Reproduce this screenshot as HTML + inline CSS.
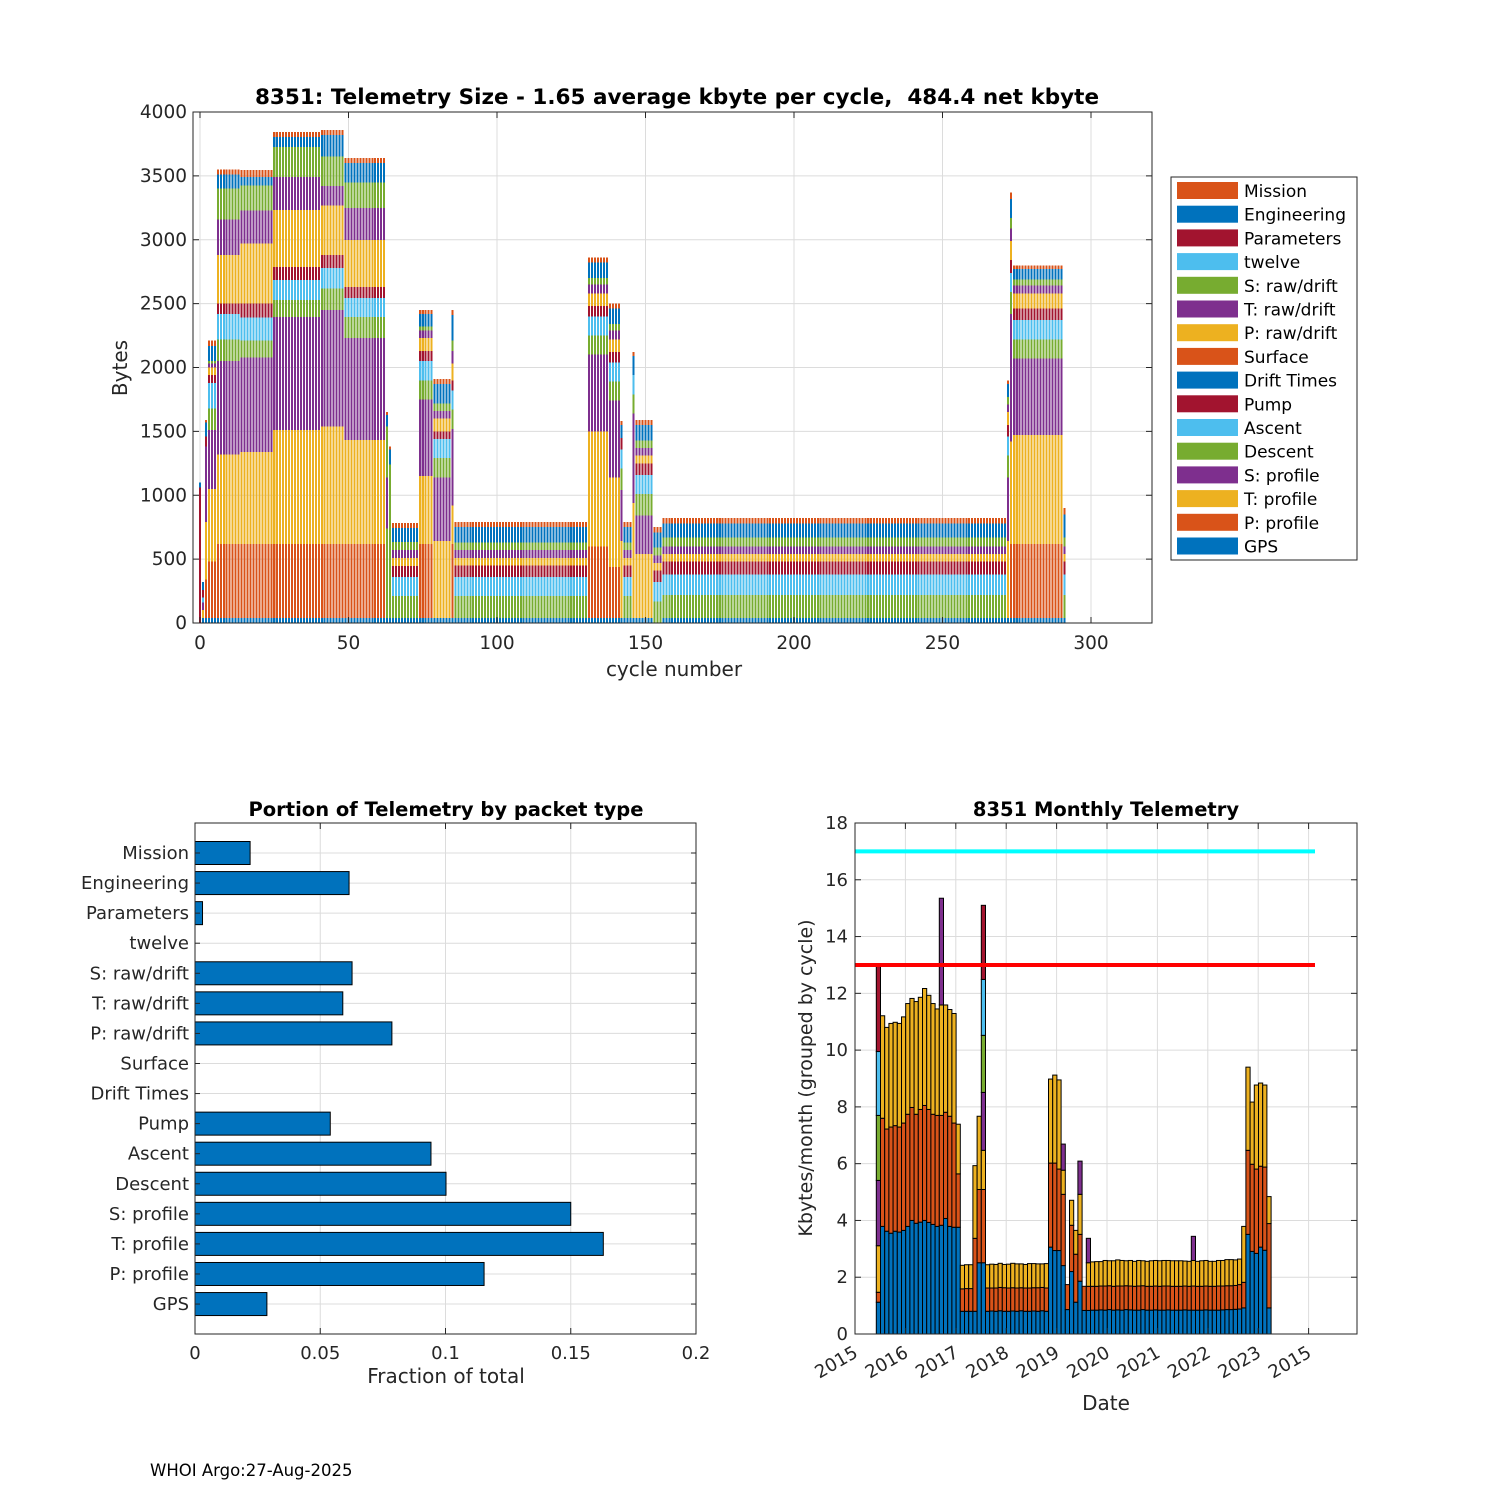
<!DOCTYPE html>
<html><head><meta charset="utf-8"><style>
body{margin:0;background:#fff;}
svg{display:block;font-family:"DejaVu Sans","Liberation Sans",sans-serif;}
</style></head><body>
<svg id="fig" width="1500" height="1500" viewBox="0 0 1500 1500">
<rect width="1500" height="1500" fill="#fff"/>
<g id="top"></g>
<g id="bl"></g>
<g id="br"></g>
<text x="150" y="1476" font-size="16.5">WHOI Argo:27-Aug-2025</text>
</svg>
<script>
// ---------- data ----------
const packetNames = ["GPS","P: profile","T: profile","S: profile","Descent","Ascent","Pump","Drift Times","Surface","P: raw/drift","T: raw/drift","S: raw/drift","twelve","Parameters","Engineering","Mission"];
const packetColors = ["#0072BD","#D95319","#EDB120","#7E2F8E","#77AC30","#4DBEEE","#A2142F","#0072BD","#D95319","#EDB120","#7E2F8E","#77AC30","#4DBEEE","#A2142F","#0072BD","#D95319"];
// cycle blocks: [firstCycle, lastCycle, bytes per packet type (GPS..Mission)]
const cycleBlocks = [
 [0,0,[0,0,0,0,0,0,0,0,0,0,0,0,0,1060,40,0]],
 [1,1,[40,0,60,60,0,40,60,0,0,0,0,0,0,0,60,0]],
 [2,2,[40,300,450,590,0,0,80,0,0,0,0,0,0,0,110,20]],
 [3,5,[40,440,570,460,170,200,60,0,0,60,30,20,0,0,120,40]],
 [6,13,[40,580,700,730,170,200,80,0,0,380,280,240,0,0,110,40]],
 [14,24,[40,580,720,740,130,180,110,0,0,470,260,195,0,0,65,55]],
 [25,40,[40,580,890,885,133,156,103,0,0,446,258,235,0,0,78,39]],
 [41,48,[40,580,920,910,170,160,100,0,0,390,150,230,0,0,170,40]],
 [49,62,[40,580,812,798,165,149,86,0,0,368,250,202,0,0,150,40]],
 [63,63,[40,0,0,0,700,0,0,0,0,0,400,400,0,0,90,20]],
 [64,64,[40,0,0,0,400,0,0,0,0,0,0,800,0,0,120,20]],
 [65,73,[40,0,0,0,170,150,86,0,0,62,63,63,0,0,109,40]],
 [74,78,[40,580,530,600,150,150,80,0,0,100,60,30,0,0,100,30]],
 [79,84,[40,0,600,500,150,150,60,0,0,100,60,60,0,0,150,40]],
 [85,85,[40,580,300,600,150,150,80,0,0,130,100,80,0,0,200,40]],
 [86,130,[40,0,0,0,170,150,90,0,0,60,60,60,0,0,120,40]],
 [131,137,[40,560,900,600,150,150,80,0,0,100,70,50,0,0,120,40]],
 [138,141,[40,400,700,600,150,150,80,0,0,100,70,50,0,0,120,40]],
 [142,142,[40,0,600,400,170,150,90,0,0,0,0,0,0,0,100,30]],
 [143,145,[40,0,0,0,170,150,90,0,0,60,60,60,0,0,120,40]],
 [146,146,[40,0,900,700,150,150,0,0,0,0,0,0,0,0,150,30]],
 [147,152,[40,0,500,300,170,150,90,0,0,60,60,60,0,0,120,40]],
 [153,155,[0,0,0,0,170,150,90,0,0,60,60,60,0,0,120,40]],
 [156,271,[40,0,0,0,180,160,100,0,0,60,60,70,0,0,110,40]],
 [272,272,[40,0,600,500,170,150,90,0,0,100,60,60,0,0,100,30]],
 [273,273,[40,580,800,1000,170,150,100,0,0,150,100,80,0,0,150,50]],
 [274,290,[40,580,850,600,150,150,90,0,0,120,60,50,0,0,80,30]],
 [291,291,[40,0,0,0,180,160,100,0,0,60,60,70,0,0,180,50]]
];
const topYTicks = [0,500,1000,1500,2000,2500,3000,3500,4000];
const topXTicks = [0,50,100,150,200,250,300];

const fracCategories = ["Mission","Engineering","Parameters","twelve","S: raw/drift","T: raw/drift","P: raw/drift","Surface","Drift Times","Pump","Ascent","Descent","S: profile","T: profile","P: profile","GPS"];
const fracValues = [0.022,0.0615,0.003,0,0.0627,0.059,0.0786,0,0,0.054,0.0942,0.1002,0.150,0.163,0.1154,0.0287];
const fracXTicks = [0,0.05,0.1,0.15,0.2];
const fracXTickLabels = ["0","0.05","0.1","0.15","0.2"];

const monthStart = 2015 + 5/12; // first bar = June 2015
const mBlue = [1.12,3.79,3.62,3.55,3.62,3.59,3.65,3.79,4.00,3.90,3.94,4.00,3.93,3.86,3.79,3.83,4.07,3.79,3.76,3.76,
 0.80,0.80,0.80,0.80,2.51,2.51,0.80,0.81,0.80,0.82,0.80,0.80,0.81,0.80,0.82,0.80,0.80,0.81,0.80,0.82,0.80,
 3.06,2.94,2.94,2.41,0.86,2.20,1.12,1.86,0.83,0.83,
 0.84,0.84,0.85,0.84,0.86,0.84,0.85,0.84,0.86,0.85,0.84,0.84,0.86,0.84,0.84,0.85,0.84,0.84,0.85,0.84,0.84,0.84,0.85,0.84,0.84,0.84,0.84,0.85,0.84,0.84,0.84,0.85,0.86,0.86,0.87,
 0.88,0.92,3.51,2.91,2.84,3.06,2.95,0.92];
const mOrange = [0.35,3.81,3.60,3.74,3.72,3.70,3.78,3.95,3.98,3.84,3.97,4.05,3.98,3.88,3.91,3.87,3.74,3.88,3.67,1.88,
 0.79,0.80,0.80,2.57,2.58,2.58,0.82,0.81,0.82,0.82,0.83,0.82,0.82,0.82,0.81,0.82,0.82,0.82,0.83,0.82,0.82,
 2.96,3.08,2.87,2.51,0.88,1.63,1.69,1.65,0.85,0.85,
 0.84,0.84,0.84,0.85,0.84,0.84,0.84,0.85,0.84,0.84,0.84,0.85,0.84,0.84,0.84,0.84,0.84,0.85,0.84,0.84,0.84,0.84,0.84,0.84,0.85,0.84,0.84,0.84,0.84,0.84,0.85,0.84,0.84,0.84,0.84,
 0.86,0.90,2.96,3.07,2.97,2.85,2.93,2.97];
const mYellow = [1.64,3.61,3.58,3.65,3.64,3.65,3.74,3.90,3.84,3.97,3.95,4.12,4.02,3.90,3.75,3.89,3.78,3.76,3.86,1.75,
 0.83,0.84,0.84,2.56,2.58,1.38,0.82,0.84,0.83,0.85,0.82,0.84,0.86,0.85,0.84,0.83,0.86,0.85,0.84,0.83,0.86,
 2.96,3.10,3.14,0.85,0,0.88,0.84,1.41,0,0.83,
 0.86,0.87,0.86,0.90,0.88,0.90,0.92,0.90,0.88,0.90,0.88,0.90,0.88,0.88,0.90,0.90,0.90,0.90,0.90,0.90,0.90,0.90,0.88,0.88,0.90,0.88,0.90,0.90,0.88,0.88,0.90,0.90,0.92,0.92,0.90,
 0.90,1.97,2.93,2.19,2.96,2.93,2.89,0.95];
// extra layers: [monthIndex, purple, green, cyan, red]
const mExtra = [[0,2.30,2.29,2.25,3.02],[15,3.76,0,0,0],[25,2.04,2.01,1.97,2.61],[44,0.92,0,0,0],[48,1.17,0,0,0],[50,0.86,0,0,0],[75,0.85,0,0,0]];
const monthlyLimits = [17,13];
const mYTicks = [0,2,4,6,8,10,12,14,16,18];
const mXTickYears = [2015,2016,2017,2018,2019,2020,2021,2022,2023,2024];
const mXTickLabels = ["2015","2016","2017","2018","2019","2020","2021","2022","2023","2015"];

// ---------- helpers ----------
const NS="http://www.w3.org/2000/svg";
function mk(parent,tag,attrs,text){const e=document.createElementNS(NS,tag);for(const k in attrs)e.setAttribute(k,attrs[k]);if(text!==undefined)e.textContent=text;parent.appendChild(e);return e;}

// ---------- top chart ----------
(function(){
 const g=document.getElementById('top');
 const L=193,R=1152,T=112,B=623;
 const xs=c=>200+(c)*(1091-200)/300;
 const ys=v=>B-v*(B-T)/4000;
 topYTicks.forEach(v=>{const l=mk(g,'line',{x1:L,x2:R,y1:ys(v),y2:ys(v),stroke:'#dcdcdc','stroke-width':1});
  
  });
 topXTicks.forEach(v=>{const l=mk(g,'line',{x1:xs(v),x2:xs(v),y1:T,y2:B,stroke:'#dcdcdc','stroke-width':1});
  
  });
 const bw=(1091-200)/300*0.68;
 cycleBlocks.forEach(b=>{
  for(let c=b[0];c<=b[1];c++){
   let acc=0;
   b[2].forEach((h,i)=>{ if(h<=0)return;
    const r=mk(g,'rect',{x:xs(c)-bw/2,y:ys(acc+h),width:bw,height:ys(acc)-ys(acc+h),fill:packetColors[i],'shape-rendering':'crispEdges'});
    
    
    acc+=h;});
  }
 });
 mk(g,'rect',{x:L,y:T,width:R-L,height:B-T,fill:'none',stroke:'#262626','stroke-width':1});
 topYTicks.forEach(v=>{mk(g,'line',{x1:L,x2:L+6,y1:ys(v),y2:ys(v),stroke:'#262626'});mk(g,'line',{x1:R,x2:R-6,y1:ys(v),y2:ys(v),stroke:'#262626'});
  const t=mk(g,'text',{x:L-6,y:ys(v)+6,'font-size':18.5,'text-anchor':'end',fill:'#262626'},String(v));
  
  });
 topXTicks.forEach(v=>{mk(g,'line',{x1:xs(v),x2:xs(v),y1:B,y2:B-6,stroke:'#262626'});mk(g,'line',{x1:xs(v),x2:xs(v),y1:T,y2:T+6,stroke:'#262626'});
  const t=mk(g,'text',{x:xs(v),y:B+26,'font-size':18.5,'text-anchor':'middle',fill:'#262626'},String(v));
  
  });
 mk(g,'text',{x:677,y:104,'font-size':21.5,'font-weight':'bold','text-anchor':'middle',style:'white-space:pre',},'8351: Telemetry Size - 1.65 average kbyte per cycle,  484.4 net kbyte');
 mk(g,'text',{x:674,y:676,'font-size':20,'text-anchor':'middle',fill:'#262626',},'cycle number');
 mk(g,'text',{x:0,y:0,'font-size':20,'text-anchor':'middle',fill:'#262626',transform:'translate(127,368) rotate(-90)',},'Bytes');
 // legend
 const lg=mk(g,'g',{});
 mk(lg,'rect',{x:1171,y:177,width:186,height:383,fill:'#fff',stroke:'#262626'});
 for(let i=15;i>=0;i--){const row=15-i;const y=182+row*23.7;
  const e=mk(lg,'g',{});
  
  
  mk(e,'rect',{x:1177,y:y,width:61,height:17,fill:packetColors[i]});
  mk(e,'text',{x:1244,y:y+15,'font-size':17,fill:'#000'},packetNames[i]);}
})();

// ---------- bottom-left ----------
(function(){
 const g=document.getElementById('bl');
 const L=195,R=696,T=823,B=1334;
 const xs=v=>L+v*(R-L)/0.2;
 const yc=i=>853+i*30.07;
 fracXTicks.forEach(v=>{const l=mk(g,'line',{x1:xs(v),x2:xs(v),y1:T,y2:B,stroke:'#dcdcdc'});
  
  });
 fracCategories.forEach((c,i)=>{mk(g,'line',{x1:L,x2:R,y1:yc(i),y2:yc(i),stroke:'#dcdcdc'});});
 fracCategories.forEach((c,i)=>{
  if(fracValues[i]>0){const r=mk(g,'rect',{x:L,y:yc(i)-11.5,width:xs(fracValues[i])-L,height:23,fill:'#0072BD',stroke:'#000','stroke-width':1});
   
   }
  const t=mk(g,'text',{x:L-6,y:yc(i)+6,'font-size':18,'text-anchor':'end',fill:'#262626'},c);
  
  
  mk(g,'line',{x1:L,x2:L+5,y1:yc(i),y2:yc(i),stroke:'#262626'});mk(g,'line',{x1:R,x2:R-5,y1:yc(i),y2:yc(i),stroke:'#262626'});
 });
 mk(g,'rect',{x:L,y:T,width:R-L,height:B-T,fill:'none',stroke:'#262626'});
 fracXTicks.forEach((v,i)=>{mk(g,'line',{x1:xs(v),x2:xs(v),y1:B,y2:B-6,stroke:'#262626'});mk(g,'line',{x1:xs(v),x2:xs(v),y1:T,y2:T+6,stroke:'#262626'});
  const t=mk(g,'text',{x:xs(v),y:B+25,'font-size':18,'text-anchor':'middle',fill:'#262626'},fracXTickLabels[i]);
  
  });
 mk(g,'text',{x:446,y:816,'font-size':19.5,'font-weight':'bold','text-anchor':'middle',},'Portion of Telemetry by packet type');
 mk(g,'text',{x:446,y:1383,'font-size':20,'text-anchor':'middle',fill:'#262626',},'Fraction of total');
})();

// ---------- bottom-right ----------
(function(){
 const g=document.getElementById('br');
 const L=855,R=1357,T=823,B=1334;
 const xs=yr=>855+(yr-2015)*50.4;
 const ys=v=>B-v*(B-T)/18;
 mYTicks.forEach(v=>{mk(g,'line',{x1:L,x2:R,y1:ys(v),y2:ys(v),stroke:'#dcdcdc'});});
 mXTickYears.forEach(v=>{mk(g,'line',{x1:xs(v),x2:xs(v),y1:T,y2:B,stroke:'#dcdcdc'});});
 const mw=50.4/12;
 mBlue.forEach((b,i)=>{
  const x=xs(monthStart+i/12)+0.3;
  const layers=[[b,'#0072BD'],[mOrange[i],'#D95319'],[mYellow[i],'#EDB120']];
  mExtra.forEach(e=>{if(e[0]===i){layers.push([e[1],'#7E2F8E'],[e[2],'#77AC30'],[e[3],'#4DBEEE'],[e[4],'#A2142F']);}});
  let acc=0;
  layers.forEach(l=>{if(l[0]<=0)return;
   const r=mk(g,'rect',{x:x,y:ys(acc+l[0]),width:mw,height:ys(acc)-ys(acc+l[0]),fill:l[1],stroke:'#000','stroke-width':1});
   
   
   acc+=l[0];});
 });
 const lc=['#00FFFF','#FF0000'];
 monthlyLimits.forEach((v,i)=>{const l=mk(g,'line',{x1:L,x2:1315,y1:ys(v),y2:ys(v),stroke:lc[i],'stroke-width':4});
  
  });
 mk(g,'rect',{x:L,y:T,width:R-L,height:B-T,fill:'none',stroke:'#262626'});
 mYTicks.forEach(v=>{mk(g,'line',{x1:L,x2:L+6,y1:ys(v),y2:ys(v),stroke:'#262626'});mk(g,'line',{x1:R,x2:R-6,y1:ys(v),y2:ys(v),stroke:'#262626'});
  const t=mk(g,'text',{x:L-7,y:ys(v)+6,'font-size':18,'text-anchor':'end',fill:'#262626'},String(v));
  
  });
 mXTickYears.forEach((v,i)=>{mk(g,'line',{x1:xs(v),x2:xs(v),y1:B,y2:B-6,stroke:'#262626'});mk(g,'line',{x1:xs(v),x2:xs(v),y1:T,y2:T+6,stroke:'#262626'});
  const t=mk(g,'text',{x:0,y:0,'font-size':18,'text-anchor':'end',fill:'#262626',transform:'translate('+(xs(v)+4)+','+(B+22)+') rotate(-30)'},mXTickLabels[i]);
  
  });
 mk(g,'text',{x:1106,y:816,'font-size':19.5,'font-weight':'bold','text-anchor':'middle',},'8351 Monthly Telemetry');
 mk(g,'text',{x:1106,y:1410,'font-size':20,'text-anchor':'middle',fill:'#262626',},'Date');
 mk(g,'text',{x:0,y:0,'font-size':19,'text-anchor':'middle',fill:'#262626',transform:'translate(812,1078) rotate(-90)',},'Kbytes/month (grouped by cycle)');
})();
</script>
</body></html>
